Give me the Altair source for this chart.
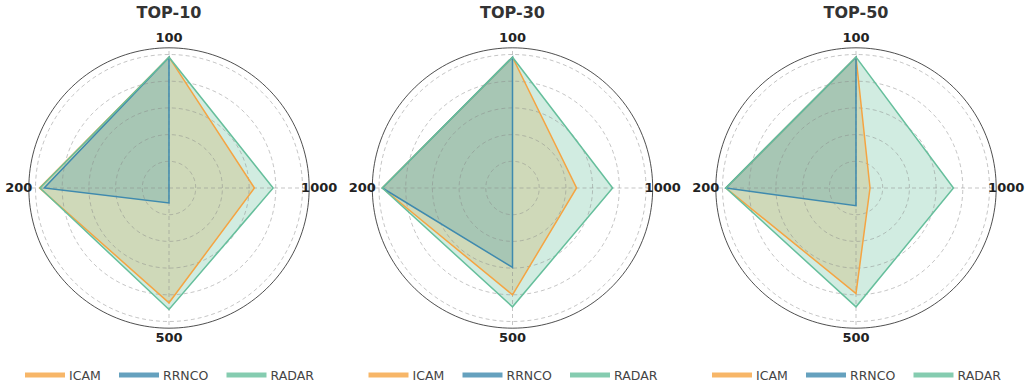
import altair as alt
import numpy as np
import pandas as pd

# ---------------- data ----------------
PANELS = ["TOP-10", "TOP-30", "TOP-50"]
CATEGORIES = ["100", "200", "500", "1000"]          # counter-clockwise from top
SERIES = ["ICAM", "RRNCO", "RADAR"]
COLORS = ["#F5A442", "#3F8AAE", "#66BF9C"]

# values per panel (TOP-10, TOP-30, TOP-50), in CATEGORIES order
ICAM = [[0.98, 0.97, 0.86, 0.64],
        [0.98, 0.975, 0.80, 0.48],
        [0.98, 0.975, 0.79, 0.105]]
RRNCO = [[0.98, 0.935, 0.112, 0.0],
         [0.98, 0.975, 0.595, 0.0],
         [0.98, 0.975, 0.132, 0.0]]
RADAR = [[0.98, 0.966, 0.91, 0.78],
         [0.98, 0.975, 0.89, 0.75],
         [0.98, 0.975, 0.89, 0.73]]

RINGS = [0.2, 0.4, 0.6, 0.8, 1.0]
R_MAX = 1.05

# ---------------- layout ----------------
PX = 133.5             # pixels per unit radius
W, H = 338, 383
CX, CY = 169, 188      # centre of the radar inside a panel (px)
LABEL_R = 1.125
LEGEND_OFFSETS = [-144, -50, 57.5]   # px from centre, start of each legend line
LEGEND_Y = 375
FONT = "DejaVu Sans"

xscale = alt.Scale(domain=[-CX / PX, (W - CX) / PX], nice=False, zero=False)
yscale = alt.Scale(domain=[-(H - CY) / PX, CY / PX], nice=False, zero=False)
color_scale = alt.Scale(domain=SERIES, range=COLORS)

# circle geometry for grid rings / frame
circle_rows = []
for r in RINGS + [R_MAX]:
    for k in range(0, 181):
        a = 2 * np.pi * k / 180
        circle_rows.append(dict(ring=r, k=k, cx=r * np.cos(a), cy=r * np.sin(a)))
circles = pd.DataFrame(circle_rows)

cat_df = pd.DataFrame({"cat": CATEGORIES, "idx": list(range(len(CATEGORIES)))})


def panel(i):
    rows = []
    for s, vals in zip(SERIES, [ICAM, RRNCO, RADAR]):
        for j, (c, v) in enumerate(zip(CATEGORIES, vals[i])):
            rows.append(dict(series=s, cat=c, idx=j, value=v))
    df = pd.DataFrame(rows)

    base = alt.Chart(df).transform_calculate(
        ang="PI/2 + datum.idx*PI/2",
    ).transform_calculate(
        px="datum.value*cos(datum.ang)",
        py="datum.value*sin(datum.ang)",
    )
    enc = dict(
        x=alt.X("px:Q", scale=xscale, axis=None),
        y=alt.Y("py:Q", scale=yscale, axis=None),
        color=alt.Color("series:N", scale=color_scale, legend=None),
        order=alt.Order("idx:Q"),
    )
    fills = base.mark_line(interpolate="linear-closed", filled=True,
                           fillOpacity=0.3, strokeOpacity=0).encode(**enc)
    strokes = base.mark_line(interpolate="linear-closed", strokeWidth=1.5).encode(**enc)

    ring_layer = alt.Chart(circles[circles.ring < R_MAX]).mark_line(
        color="#888888", opacity=0.55, strokeWidth=0.9, strokeDash=[4, 3]
    ).encode(
        x=alt.X("cx:Q", scale=xscale, axis=None),
        y=alt.Y("cy:Q", scale=yscale, axis=None),
        detail="ring:N", order="k:Q",
    )
    frame = alt.Chart(circles[circles.ring == R_MAX]).mark_line(
        color="#222222", strokeWidth=0.8
    ).encode(
        x=alt.X("cx:Q", scale=xscale, axis=None),
        y=alt.Y("cy:Q", scale=yscale, axis=None),
        order="k:Q",
    )

    cat_base = alt.Chart(cat_df).transform_calculate(
        ang="PI/2 + datum.idx*PI/2",
    ).transform_calculate(
        x0="0", y0="0",
        x1=f"{R_MAX}*cos(datum.ang)", y1=f"{R_MAX}*sin(datum.ang)",
        lx=f"{LABEL_R}*cos(datum.ang)", ly=f"{LABEL_R}*sin(datum.ang)",
    )
    spokes = cat_base.mark_rule(
        color="#888888", opacity=0.55, strokeWidth=0.9, strokeDash=[4, 3]
    ).encode(
        x=alt.X("x0:Q", scale=xscale, axis=None), x2="x1:Q",
        y=alt.Y("y0:Q", scale=yscale, axis=None), y2="y1:Q",
    )
    labels = cat_base.mark_text(
        font=FONT, fontSize=13, fontWeight="bold", color="#222222",
        align="center", baseline="middle",
    ).encode(
        x=alt.X("lx:Q", scale=xscale, axis=None),
        y=alt.Y("ly:Q", scale=yscale, axis=None),
        text="cat:N",
    )

    title = alt.Chart(pd.DataFrame({"t": [PANELS[i]]})).mark_text(
        font=FONT, fontSize=16, fontWeight="bold", color="#333333",
        align="center", baseline="middle",
    ).encode(x=alt.value(CX), y=alt.value(13), text="t:N")

    leg = pd.DataFrame({"series": SERIES, "off": LEGEND_OFFSETS})
    leg_base = alt.Chart(leg).transform_calculate(
        lx0=f"datum.off/{PX}", lx1=f"(datum.off+40)/{PX}",
        tx=f"(datum.off+44)/{PX}", ly=f"{(CY - LEGEND_Y) / PX}",
        ty=f"{(CY - LEGEND_Y - 1) / PX}",
    )
    leg_lines = leg_base.mark_rule(strokeWidth=5, opacity=0.8).encode(
        x=alt.X("lx0:Q", scale=xscale, axis=None), x2="lx1:Q",
        y=alt.Y("ly:Q", scale=yscale, axis=None),
        color=alt.Color("series:N", scale=color_scale, legend=None),
    )
    leg_text = leg_base.mark_text(
        font=FONT, fontSize=12.5, color="#444444", align="left", baseline="middle",
    ).encode(
        x=alt.X("tx:Q", scale=xscale, axis=None),
        y=alt.Y("ty:Q", scale=yscale, axis=None),
        text="series:N",
    )

    return alt.layer(
        fills, ring_layer, spokes, strokes, frame, labels, title, leg_lines, leg_text
    ).properties(width=W, height=H)


chart = alt.hconcat(*[panel(i) for i in range(3)], spacing=5.5).properties(
    padding=0, background="white"
).configure_view(strokeWidth=0)

chart.save("out.html", embed_options={"renderer": "svg", "actions": False})
